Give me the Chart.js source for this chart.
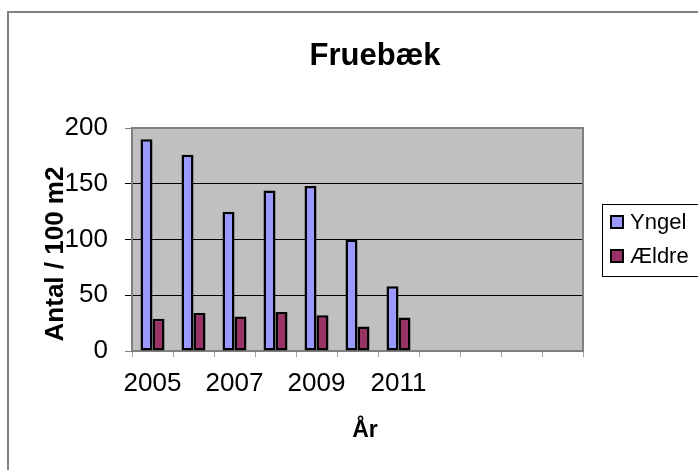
<!DOCTYPE html>
<html>
<head>
<meta charset="utf-8">
<script src="https://cdn.jsdelivr.net/npm/chart.js@4.4.1/dist/chart.umd.min.js"></script>
<style>
  html, body { margin: 0; padding: 0; background: #ffffff; }
  #wrap { width: 698px; height: 470px; position: relative; }
</style>
</head>
<body>
<div id="wrap"><canvas id="c" width="698" height="470"></canvas></div>
<script>
const chartTitle = "Fruebæk";
const xAxisTitle = "År";
const yAxisTitle = "Antal / 100 m2";
const categories = ["2005", "2006", "2007", "2008", "2009", "2010", "2011", "", "", "", ""];
const yngel = [190, 176, 125, 144, 148, 100, 58, null, null, null, null];
const aeldre = [29, 34, 31, 35, 32, 22, 30, null, null, null, null];
const seriesNames = ["Yngel", "Ældre"];
const yTicks = [0, 50, 100, 150, 200];

const FONT = "Arial, 'Liberation Sans', sans-serif";

const decor = {
  id: 'decor',
  beforeDraw(chart) {
    const { ctx, chartArea: a } = chart;
    ctx.save();
    ctx.fillStyle = '#ffffff';
    ctx.fillRect(0, 0, chart.width, chart.height);
    ctx.strokeStyle = '#808080';
    ctx.lineWidth = 2;
    ctx.beginPath();
    ctx.moveTo(8, 480);
    ctx.lineTo(8, 12);
    ctx.lineTo(710, 12);
    ctx.stroke();
    ctx.fillStyle = '#C0C0C0';
    ctx.fillRect(a.left, a.top, a.right - a.left, a.bottom - a.top);
    ctx.restore();
  },
  beforeDatasetsDraw(chart) {
    const { ctx, chartArea: a } = chart;
    ctx.save();
    ctx.strokeStyle = '#808080';
    ctx.lineWidth = 2;
    ctx.strokeRect(a.left, a.top, a.right - a.left, a.bottom - a.top);
    ctx.restore();
  },
  afterDraw(chart) {
    const { ctx } = chart;
    ctx.save();
    ctx.fillStyle = '#000000';
    ctx.font = "bold 31px " + FONT;
    ctx.textAlign = 'center';
    ctx.textBaseline = 'alphabetic';
    ctx.fillText(chartTitle, 375, 65);
    ctx.font = "bold 23px " + FONT;
    ctx.fillText(xAxisTitle, 365, 437);
    ctx.save();
    ctx.translate(63, 254);
    ctx.rotate(-Math.PI / 2);
    ctx.font = "bold 26px " + FONT;
    ctx.fillText(yAxisTitle, 0, 0);
    ctx.restore();
    ctx.strokeStyle = '#000000';
    ctx.lineWidth = 1;
    ctx.strokeRect(602.5, 204.5, 120, 72);
    const ds = chart.data.datasets;
    const rows = [229, 263];
    ds.forEach((d, i) => {
      const base = rows[i];
      ctx.fillStyle = d.backgroundColor;
      ctx.fillRect(611, base - 13, 12, 12);
      ctx.strokeStyle = '#000000';
      ctx.lineWidth = 2;
      ctx.strokeRect(611, base - 13, 12, 12);
      ctx.fillStyle = '#000000';
      ctx.font = "22px " + FONT;
      ctx.textAlign = 'left';
      ctx.fillText(d.label, 630, base);
    });
    ctx.restore();
  }
};

new Chart(document.getElementById('c'), {
  type: 'bar',
  data: {
    labels: categories,
    datasets: [
      { label: seriesNames[0], data: yngel, backgroundColor: '#9999FF', borderColor: '#000000', borderWidth: 2.5, borderSkipped: false },
      { label: seriesNames[1], data: aeldre, backgroundColor: '#993366', borderColor: '#000000', borderWidth: 2.5, borderSkipped: false }
    ]
  },
  options: {
    responsive: false,
    animation: false,
    devicePixelRatio: 1,
    layout: { padding: { left: 0, top: 128, right: 115, bottom: 0 } },
    plugins: { legend: { display: false }, title: { display: false }, tooltip: { enabled: false } },
    datasets: { bar: { categoryPercentage: 24 / 41, barPercentage: 1 } },
    scales: {
      x: {
        offset: true,
        afterFit(s) { s.height = 119; },
        border: { display: false },
        grid: {
          offset: true,
          drawOnChartArea: false,
          drawTicks: true,
          tickLength: 6,
          tickColor: '#A0A0A0',
          tickWidth: 1
        },
        ticks: {
          autoSkip: false,
          maxRotation: 0,
          minRotation: 0,
          padding: 11,
          color: '#000000',
          font: { family: FONT, size: 26 },
          callback(v, i) { return i % 2 === 0 ? categories[i] : ''; }
        }
      },
      y: {
        min: 0,
        max: 200,
        afterFit(s) { s.width = 132; },
        afterBuildTicks(s) { s.ticks = yTicks.map(v => ({ value: v })); },
        border: { display: false },
        grid: {
          drawTicks: true,
          tickLength: 7,
          color(c) { return (c.tick && (c.tick.value === 0 || c.tick.value === 200)) ? 'rgba(0,0,0,0)' : '#000000'; },
          tickColor(c) { return (c.tick && (c.tick.value === 0 || c.tick.value === 200)) ? '#808080' : '#000000'; },
          lineWidth: 1
        },
        ticks: {
          padding: 17,
          color: '#000000',
          font: { family: FONT, size: 26 }
        }
      }
    }
  },
  plugins: [decor]
});
</script>
</body>
</html>
